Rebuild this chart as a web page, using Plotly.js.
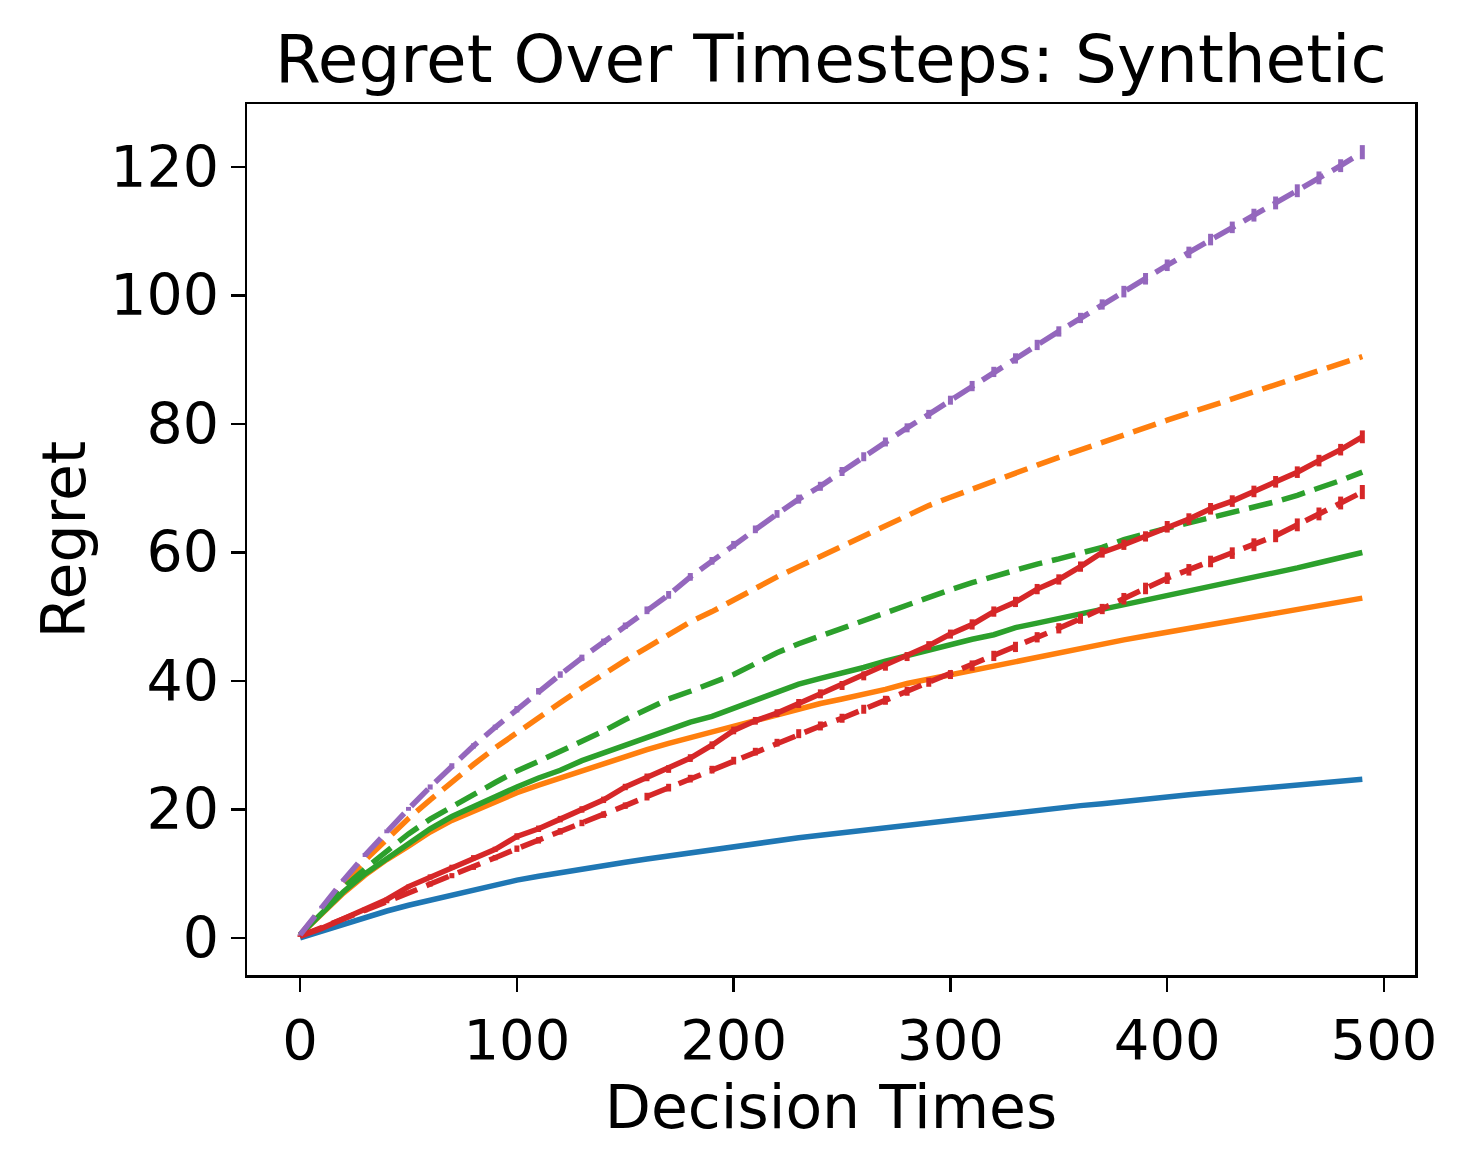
<!DOCTYPE html>
<html>
<head>
<meta charset="utf-8">
<script src="https://cdn.plot.ly/plotly-3.0.1.min.js"></script>
<style>html,body{margin:0;padding:0;background:#fff;}#chart{width:1469px;height:1170px;}</style>
</head>
<body>
<div id="chart"></div>
<script>
const decisionTimes = [0,10,20,30,40,50,60,70,80,90,100,110,120,130,140,150,160,170,180,190,200,210,220,230,240,250,260,270,280,290,300,310,320,330,340,350,360,370,380,390,400,410,420,430,440,450,460,470,480,490];

const blueSolid = [0,1.1,2.2,3.2,4.2,5.1,5.9,6.7,7.5,8.3,9.0,9.6,10.2,10.8,11.3,11.8,12.3,12.8,13.3,13.8,14.3,14.8,15.2,15.6,16.0,16.4,16.8,17.2,17.6,18.0,18.4,18.8,19.1,19.5,19.9,20.2,20.6,20.9,21.3,21.6,22.0,22.3,22.6,22.9,23.2,23.5,23.8,24.1,24.4,24.7];

const orangeSolid = [0.5,3.8,7.0,9.8,12.2,14.3,16.5,18.3,19.8,21.3,22.6,23.8,24.9,26.2,27.2,28.2,29.3,30.3,31.2,32.0,33.1,34.0,34.9,35.7,36.5,37.2,37.9,38.7,39.6,40.3,40.9,41.6,42.3,43.1,43.8,44.4,45.0,45.7,46.4,47.0,47.6,48.2,48.8,49.3,49.9,50.6,51.2,51.8,52.3,52.9];

const orangeDashed = [0.5,4.6,8.5,12.1,15.4,18.6,21.5,24.3,27.0,29.6,32.0,34.3,36.6,38.9,41.1,43.2,45.2,47.2,49.2,50.8,52.6,54.5,56.2,57.8,59.4,61.0,62.6,64.2,65.8,67.3,68.6,69.9,71.2,72.4,73.6,74.8,76.0,77.2,78.4,79.5,80.6,81.7,82.8,83.8,84.8,85.9,87.0,88.2,89.4,90.5];

const greenSolid = [0.5,3.9,7.2,10.0,12.4,14.6,17.0,18.9,20.5,22.1,23.5,24.9,26.1,27.6,28.8,30.0,31.2,32.5,33.6,34.5,35.8,37.0,38.4,39.5,40.4,41.2,42.1,43.1,44.0,44.8,45.7,46.5,47.2,48.3,49.0,49.7,50.4,51.1,51.8,52.5,53.2,54.0,54.7,55.4,56.0,56.8,57.6,58.4,59.1,60.0];

const greenDashed = [0.5,4.2,7.8,10.8,13.5,16.2,18.5,20.5,22.3,24.2,26.0,27.5,29.0,30.6,32.2,34.0,35.5,37.2,38.4,39.6,41.0,42.7,44.4,45.8,47.0,48.2,49.5,50.8,52.0,53.0,54.2,55.3,56.3,57.3,58.2,59.0,59.9,60.8,62.0,63.0,63.8,64.6,65.4,66.2,67.0,67.9,68.9,70.0,71.2,72.5];

const redSolid = [0.3,1.5,3.0,4.5,6.0,8.0,9.5,11.0,12.5,13.8,15.8,17.0,18.5,20.0,21.5,23.5,25.0,26.3,28.0,30.0,32.3,33.8,35.0,36.5,38.0,39.3,40.8,42.3,43.8,45.5,47.3,48.8,50.8,52.3,54.3,55.8,57.8,60.0,61.2,62.5,64.0,65.2,66.8,68.0,69.5,71.0,72.5,74.3,76.0,78.0];

const redDashed = [0.3,1.6,3.0,4.3,5.7,7.0,8.4,9.7,11.0,12.5,13.9,15.2,16.6,17.9,19.2,20.6,22.0,23.4,24.8,26.2,27.6,29.0,30.4,31.8,33.0,34.2,35.6,37.0,38.4,39.8,41.0,42.4,43.9,45.3,46.8,48.2,49.7,51.2,52.8,54.4,56.0,57.3,58.6,59.9,61.2,62.6,64.3,66.0,67.7,69.4];

const purpleDashed = [0.5,4.8,9.0,12.9,16.6,20.1,23.5,26.8,29.9,32.8,35.6,38.4,41.0,43.6,46.1,48.6,51.0,53.4,56.2,58.7,61.2,63.6,66.0,68.3,70.3,72.6,74.9,77.2,79.4,81.5,83.7,85.9,88.1,90.2,92.3,94.4,96.5,98.6,100.6,102.6,104.7,106.7,108.7,110.6,112.5,114.4,116.3,118.3,120.2,122.3];

const redSolidErr = [0.1,0.2,0.2,0.3,0.3,0.3,0.4,0.4,0.4,0.4,0.5,0.5,0.5,0.5,0.5,0.5,0.6,0.6,0.6,0.6,0.6,0.6,0.6,0.7,0.7,0.7,0.7,0.7,0.7,0.7,0.7,0.8,0.8,0.8,0.8,0.8,0.8,0.8,0.8,0.8,0.9,0.9,0.9,0.9,0.9,0.9,0.9,0.9,0.9,1.0];
const redDashedErr = [0.1,0.2,0.2,0.3,0.3,0.3,0.4,0.4,0.4,0.4,0.5,0.5,0.5,0.5,0.5,0.5,0.6,0.6,0.6,0.6,0.6,0.6,0.6,0.7,0.7,0.7,0.7,0.7,0.7,0.7,0.7,0.8,0.8,0.8,0.8,0.8,0.8,0.8,0.9,0.9,0.9,0.9,0.9,0.9,1.0,1.0,1.0,1.0,1.0,1.1];
const purpleErr = [0.1,0.2,0.2,0.3,0.3,0.3,0.4,0.4,0.4,0.4,0.5,0.5,0.5,0.5,0.5,0.5,0.6,0.6,0.6,0.6,0.6,0.6,0.6,0.7,0.7,0.7,0.7,0.7,0.7,0.7,0.7,0.8,0.8,0.8,0.8,0.8,0.8,0.8,0.9,0.9,0.9,0.9,0.9,0.9,1.0,1.0,1.0,1.0,1.0,1.1];

const C = {blue:'#1f77b4', orange:'#ff7f0e', green:'#2ca02c', red:'#d62728', purple:'#9467bd'};
const LW = 5.5;
const DASH = '24px,10px';

function tr(y, color, dash, err) {
  const t = {x: decisionTimes, y: y, type:'scatter', mode:'lines',
    line:{color:color, width:LW, dash:dash}, hoverinfo:'skip'};
  if (err) t.error_y = {type:'data', array: err, visible:true, color: color, thickness:5, width:0};
  return t;
}

const data = [
  tr(blueSolid, C.blue, 'solid'),
  tr(orangeSolid, C.orange, 'solid'),
  tr(orangeDashed, C.orange, DASH),
  tr(greenSolid, C.green, 'solid'),
  tr(greenDashed, C.green, DASH),
  tr(redSolid, C.red, 'solid', redSolidErr),
  tr(redDashed, C.red, DASH, redDashedErr),
  tr(purpleDashed, C.purple, DASH, purpleErr)
];

const FONT = 'DejaVu Sans, sans-serif';
const layout = {
  width:1469, height:1170,
  margin:{l:247, r:54, t:104, b:195},
  paper_bgcolor:'#fff', plot_bgcolor:'#fff',
  showlegend:false,
  font:{family:FONT, color:'#000'},
  title:{text:'Regret Over Timesteps: Synthetic', font:{family:FONT, size:66, color:'#000'},
    x:0.5656, xanchor:'center', y:0.95, yanchor:'middle'},
  xaxis:{range:[-24.5, 514.3], tickvals:[0,100,200,300,400,500], ticks:'outside', ticklen:14, tickwidth:2.5, tickcolor:'#000',
    showgrid:false, zeroline:false, showline:true, linecolor:'#000', linewidth:2.5, mirror:true,
    tickfont:{family:FONT, size:56, color:'#000'},
    title:{text:'Decision Times', font:{family:FONT, size:60, color:'#000'}, standoff:13}},
  yaxis:{range:[-5.76, 129.8], tickvals:[0,20,40,60,80,100,120], ticks:'outside', ticklen:14, tickwidth:2.5, tickcolor:'#000',
    showgrid:false, zeroline:false, showline:true, linecolor:'#000', linewidth:2.5, mirror:true,
    tickfont:{family:FONT, size:57, color:'#000'},
    title:{text:'Regret', font:{family:FONT, size:60, color:'#000'}, standoff:6}}
};

Plotly.newPlot('chart', data, layout, {displayModeBar:false, staticPlot:true});
</script>
</body>
</html>
